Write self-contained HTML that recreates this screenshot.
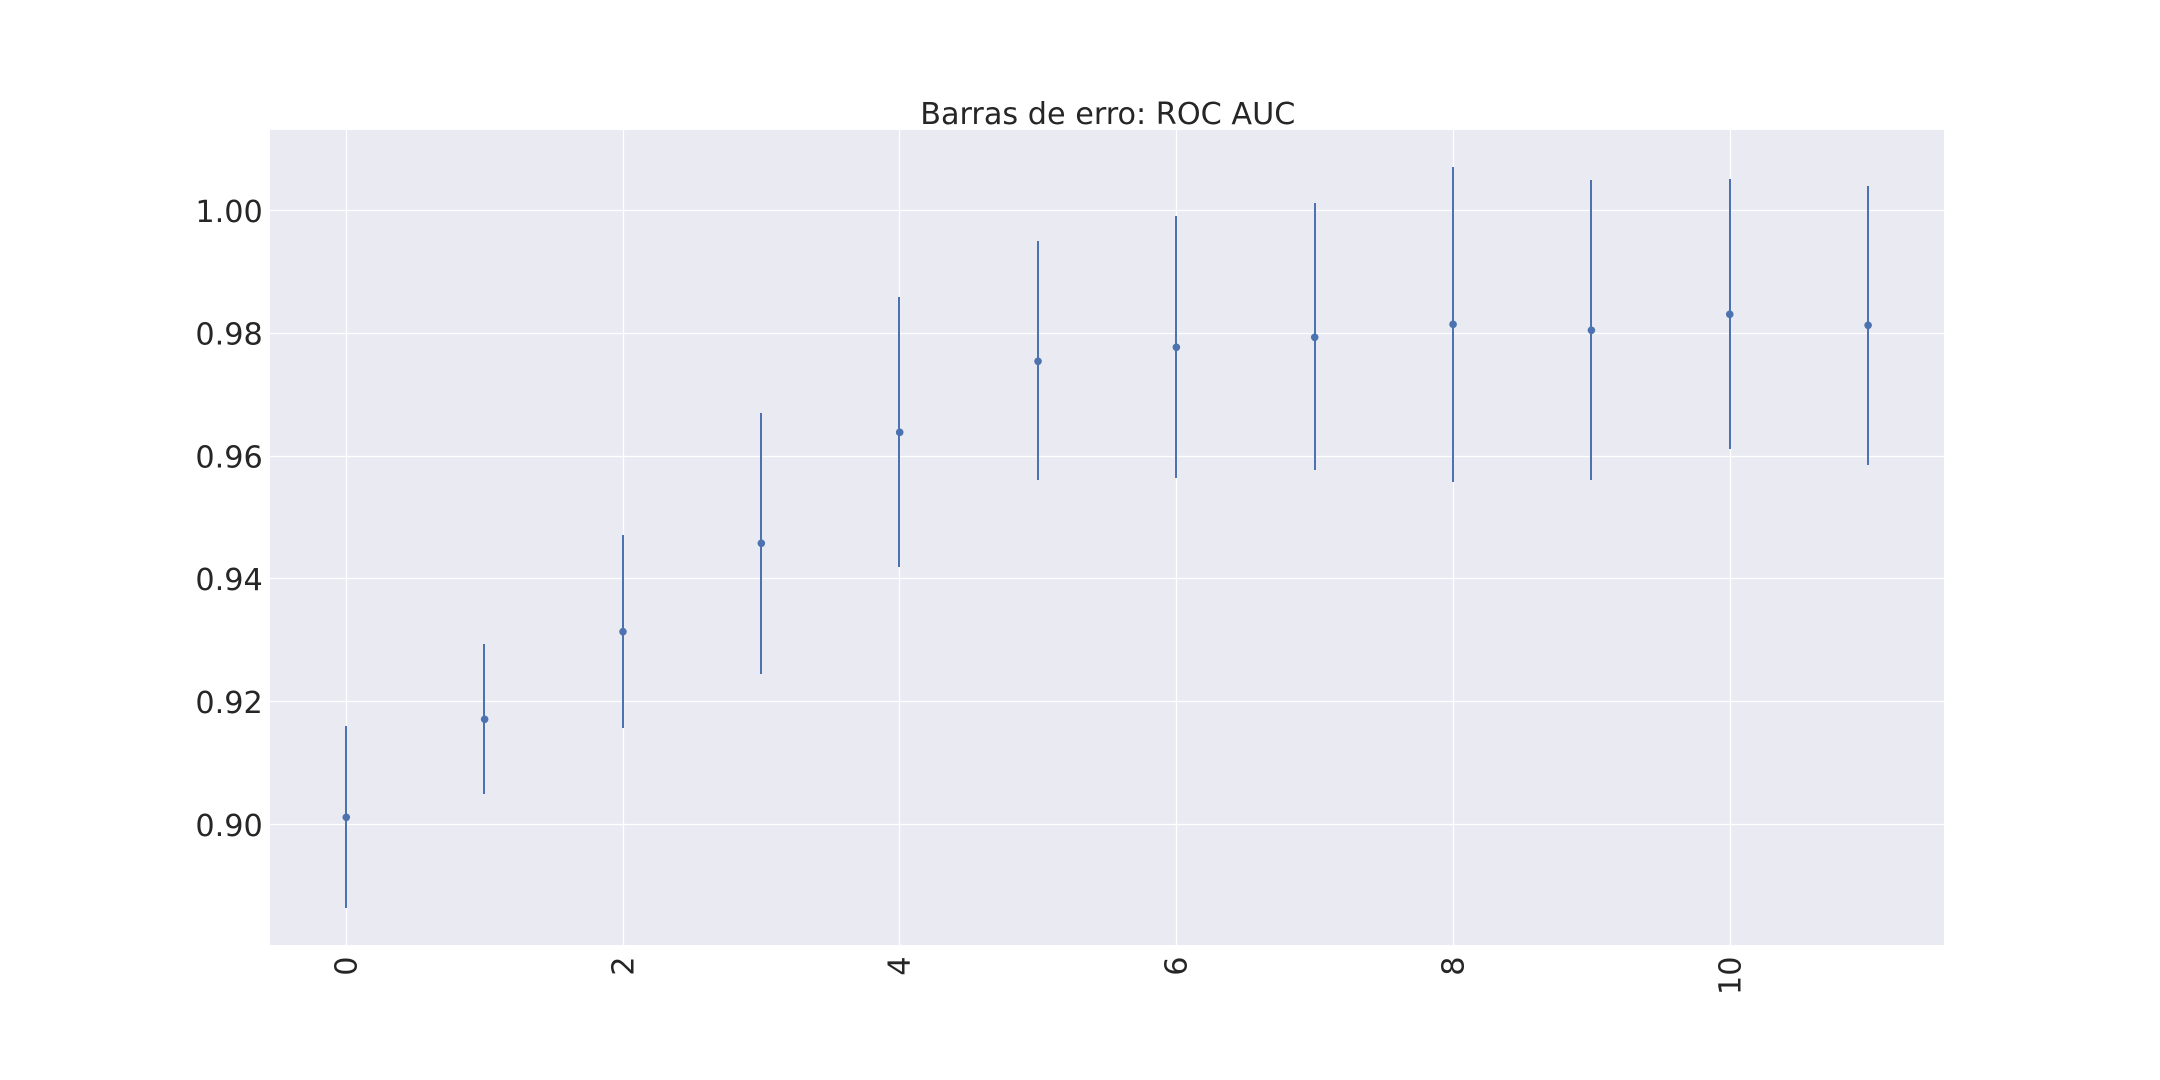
<!DOCTYPE html>
<html lang="pt">
<head>
<meta charset="utf-8">
<title>Barras de erro: ROC AUC</title>
<style>
  html, body { margin: 0; padding: 0; background: #ffffff; }
  body { width: 2160px; height: 1080px; overflow: hidden; }
  svg { display: block; }
  text { font-family: "DejaVu Sans", "Liberation Sans", sans-serif; fill: #262626; font-size: 30.3px; }
</style>
</head>
<body>
<svg id="chart" xmlns="http://www.w3.org/2000/svg" width="2160" height="1080" viewBox="0 0 2160 1080">
  <rect x="0" y="0" width="2160" height="1080" fill="#ffffff"></rect>
  <rect x="270" y="130" width="1674" height="815" fill="#eaeaf2"></rect>
  <g id="grid"></g>
  <g id="errors"></g>
  <g id="points"></g>
  <g id="x-labels"></g>
  <g id="y-labels"></g>
  <text x="1107.8" y="124" text-anchor="middle" style="font-size:30.25px">Barras de erro: ROC AUC</text>
</svg>
<script>
const categories = [0, 1, 2, 3, 4, 5, 6, 7, 8, 9, 10, 11];
const means = [0.90114, 0.91710, 0.93137, 0.94577, 0.96384, 0.97541, 0.97769, 0.97932, 0.98143, 0.98046, 0.98306, 0.98127];
const upper = [0.91601, 0.92937, 0.94712, 0.96699, 0.98588, 0.99500, 0.99907, 1.00119, 1.00705, 1.00493, 1.00510, 1.00396];
const lower = [0.88637, 0.90494, 0.91568, 0.92448, 0.94195, 0.95608, 0.95640, 0.95770, 0.95575, 0.95608, 0.96111, 0.95852];
const xTicks = [0, 2, 4, 6, 8, 10];
const yTicks = [0.90, 0.92, 0.94, 0.96, 0.98, 1.00];
const yTickLabels = ["0.90", "0.92", "0.94", "0.96", "0.98", "1.00"];

const SVG_NS = "http://www.w3.org/2000/svg";
const plot = { left: 270, right: 1944, top: 130, bottom: 945 };
const xDomain = [-0.55, 11.55];
const yDomain = [0.88034, 1.01308];
const pointColor = "#4c72b0";

function xScale(v) {
  return plot.left + (v - xDomain[0]) / (xDomain[1] - xDomain[0]) * (plot.right - plot.left);
}
function yScale(v) {
  return plot.bottom - (v - yDomain[0]) / (yDomain[1] - yDomain[0]) * (plot.bottom - plot.top);
}
function make(tag, attrs, parent) {
  const el = document.createElementNS(SVG_NS, tag);
  Object.keys(attrs).forEach(function (k) { el.setAttribute(k, attrs[k]); });
  parent.appendChild(el);
  return el;
}

const gridGroup = document.getElementById("grid");
const errorGroup = document.getElementById("errors");
const pointGroup = document.getElementById("points");
const xLabelGroup = document.getElementById("x-labels");
const yLabelGroup = document.getElementById("y-labels");

xTicks.forEach(function (t) {
  const x = Math.round(xScale(t)) + 0.5;
  const line = make("line", { x1: x, x2: x, y1: plot.top, y2: plot.bottom, stroke: "#ffffff", "stroke-width": 1.25 }, gridGroup);
  
  
  const bx = Math.round(xScale(t)) + 10.3;
  const by = 956.5;
  const label = make("text", { x: bx, y: by, "text-anchor": "end", transform: "rotate(-90 " + bx + " " + by + ")" }, xLabelGroup);
  label.textContent = String(t);
  
  
});

yTicks.forEach(function (t, i) {
  const y = Math.round(yScale(t) - 0.25) + 0.5;
  const line = make("line", { x1: plot.left, x2: plot.right, y1: y, y2: y, stroke: "#ffffff", "stroke-width": 1.25 }, gridGroup);
  
  
  const label = make("text", { x: 262.8, y: yScale(t) + 11.5, "text-anchor": "end" }, yLabelGroup);
  label.textContent = yTickLabels[i];
  
  
});

categories.forEach(function (c, i) {
  const snapped = Math.round(xScale(c));
  const bar = make("rect", {
    x: snapped - 1,
    y: Math.round(yScale(upper[i])),
    width: 2,
    height: Math.round(yScale(lower[i])) - Math.round(yScale(upper[i])),
    fill: pointColor
  }, errorGroup);
  
  
  const dot = make("circle", { cx: xScale(c) + 0.2, cy: yScale(means[i]), r: 3.8, fill: pointColor }, pointGroup);
  
  
});
</script>
</body>
</html>
